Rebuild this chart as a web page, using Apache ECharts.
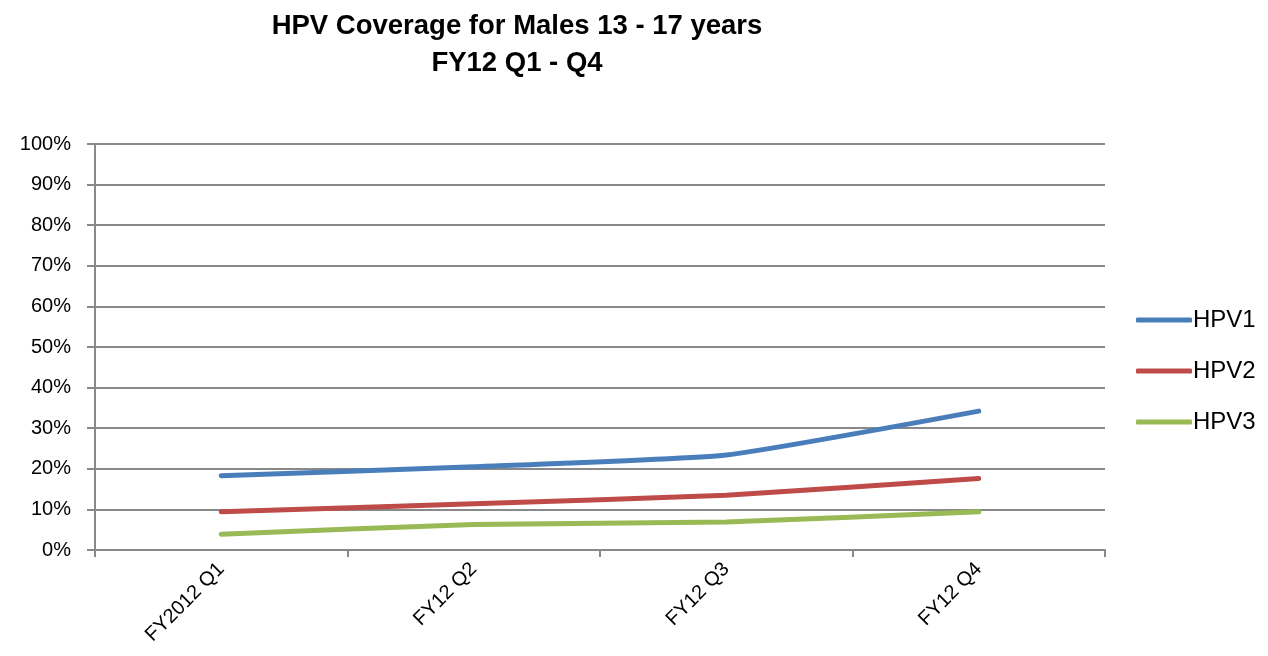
<!DOCTYPE html>
<html>
<head>
<meta charset="utf-8">
<script src="https://cdn.jsdelivr.net/npm/echarts@6/dist/echarts.min.js"></script>
<style>html,body{margin:0;padding:0;background:#fff}#c{width:1268px;height:656px}</style>
</head>
<body>
<div id="c"></div>
<script>
const categories = ['FY2012 Q1', 'FY12 Q2', 'FY12 Q3', 'FY12 Q4'];
const hpv1 = [18.3, 20.5, 23.4, 34.2];
const hpv2 = [9.4, 11.4, 13.5, 17.6];
const hpv3 = [3.9, 6.3, 6.9, 9.4];
const seriesNames = ['HPV1', 'HPV2', 'HPV3'];
const colors = ['#4A7EBB', '#BE4B48', '#98B954'];

const chart = echarts.init(document.getElementById('c'));
const font = 'Liberation Sans';
const mk = (name, data, color) => ({
  name, type: 'line', data, smooth: 0.15, symbol: 'none',
  lineStyle: { color, width: 5, cap: 'round', join: 'round' },
  itemStyle: { color }
});
chart.setOption({
  animation: false,
  title: {
    text: 'HPV Coverage for Males 13 - 17 years\nFY12 Q1 - Q4',
    left: 512, top: 3, textAlign: 'center',
    textStyle: { fontFamily: font, fontWeight: 'bold', fontSize: 27.5, lineHeight: 37, color: '#000' }
  },
  legend: {
    orient: 'vertical', left: 1131, top: 303,
    itemWidth: 56, itemHeight: 5, itemGap: 27, icon: 'roundRect',
    textStyle: { fontFamily: font, fontSize: 24, color: '#000', lineHeight: 24, padding: [0,0,0,-4] },
    data: seriesNames
  },
  grid: { left: 95, right: 163, top: 144, bottom: 106, containLabel: false },
  xAxis: {
    type: 'category', data: categories, boundaryGap: true,
    axisLine: { lineStyle: { color: '#898989', width: 2 } },
    axisTick: { show: true, length: 7, lineStyle: { color: '#898989', width: 2 }, alignWithLabel: false },
    axisLabel: { rotate: 45, fontFamily: font, fontSize: 20, color: '#000', margin: 16, interval: 0 }
  },
  yAxis: {
    type: 'value', min: 0, max: 100, interval: 10,
    axisLine: { show: true, lineStyle: { color: '#898989', width: 2 } },
    axisTick: { show: true, length: 8, inside: false, lineStyle: { color: '#898989', width: 2 } },
    splitLine: { lineStyle: { color: '#898989', width: 2 } },
    axisLabel: { formatter: '{value}%', fontFamily: font, fontSize: 20, color: '#000', margin: 24 }
  },
  series: [mk('HPV1', hpv1, colors[0]), mk('HPV2', hpv2, colors[1]), mk('HPV3', hpv3, colors[2])]
});
</script>
</body>
</html>
